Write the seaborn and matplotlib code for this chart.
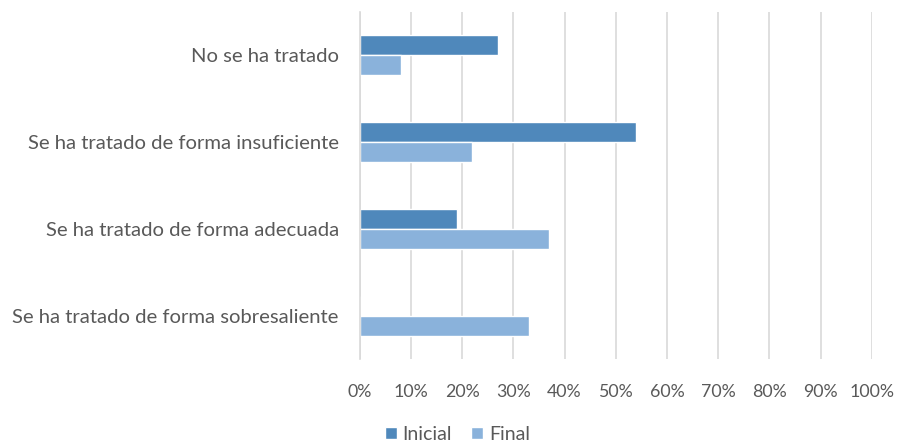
import seaborn as sns
from matplotlib import pyplot as plt
from matplotlib.ticker import PercentFormatter
import pandas as pd

categorias = ["No se ha tratado",
              "Se ha tratado de forma insuficiente",
              "Se ha tratado de forma adecuada",
              "Se ha tratado de forma sobresaliente"]
inicial = [27, 54, 19, 0]
final = [8, 22, 37, 33]
series = ["Inicial", "Final"]
colores = ["#4F88BB", "#8AB2DB"]

df = pd.DataFrame({
    "categoria": categorias * 2,
    "valor": inicial + final,
    "serie": [series[0]] * 4 + [series[1]] * 4,
})

sns.set_style("white")
plt.rcParams["font.family"] = ["Lato", "DejaVu Sans"]
gris = "#595959"

fig = plt.figure(figsize=(8.97, 4.43), dpi=100)
ax = fig.add_axes([0.401, 0.1885, 0.571, 0.7855])

sns.barplot(data=df, y="categoria", x="valor", hue="serie", order=categorias,
            hue_order=series, palette=colores, width=0.47, orient="h",
            saturation=1, ax=ax, legend=True)

ax.set_xlim(0, 100)
ax.set_xticks(range(0, 101, 10))
ax.xaxis.set_major_formatter(PercentFormatter(decimals=0))
ax.grid(axis="x", color="#D9D9D9", linewidth=1.2)
ax.set_axisbelow(True)
for s in ["top", "right", "bottom"]:
    ax.spines[s].set_visible(False)
ax.spines["left"].set_color("#D9D9D9")
ax.spines["left"].set_linewidth(1.2)
ax.set_xlabel("")
ax.set_ylabel("")
ax.tick_params(axis="both", length=0, colors=gris)
ax.tick_params(axis="x", pad=18, labelsize=12.8)
ax.tick_params(axis="y", pad=15, labelsize=14.6)

ax.legend(loc="lower center", bbox_to_anchor=(0.51, -0.022), bbox_transform=fig.transFigure,
          ncol=2, frameon=False, fontsize=14, handlelength=0.6, handleheight=0.6,
          handletextpad=0.3, columnspacing=1.0, labelcolor=gris, borderpad=0.0)

fig.savefig("out.png", dpi=100)
